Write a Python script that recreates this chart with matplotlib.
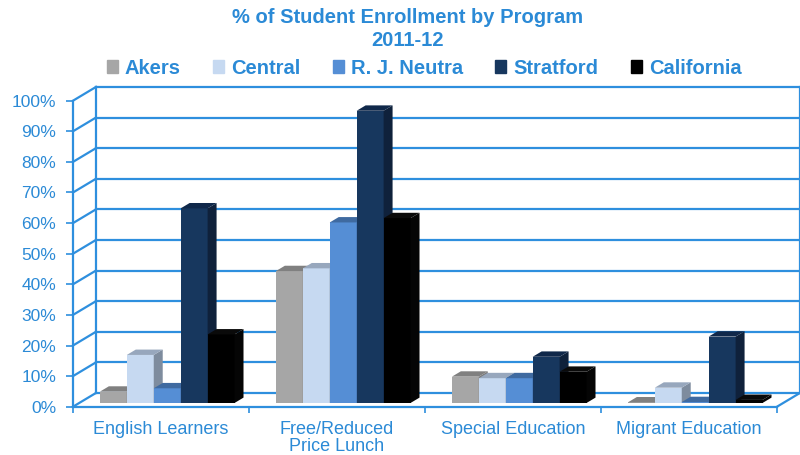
import numpy as np
import matplotlib.pyplot as plt
from matplotlib.patches import Polygon, Patch

categories = ['English Learners', 'Free/Reduced\nPrice Lunch', 'Special Education', 'Migrant Education']
schools = ['Akers', 'Central', 'R. J. Neutra', 'Stratford', 'California']
akers = [3.7, 43.1, 8.6, 0.2]
central = [15.7, 44.0, 8.1, 5.0]
neutra = [4.8, 59.0, 8.1, 0.3]
stratford = [63.6, 95.5, 15.1, 21.7]
california = [22.4, 60.4, 10.2, 1.0]
yticks = list(range(0, 101, 10))

series = [akers, central, neutra, stratford, california]
# front / top / side colours for each series
front_cols = ['#A6A6A6', '#C6D9F1', '#558ED5', '#17375E', '#000000']
top_cols = ['#808080', '#97A7BD', '#3F6AA0', '#10284A', '#0A0A0A']
side_cols = ['#7A7A7A', '#7E8C9E', '#3A6295', '#0F213B', '#050505']

blue = '#2E8FDE'
txt = '#2B8AD6'
plt.rcParams['font.family'] = ['Liberation Sans', 'DejaVu Sans']

fig = plt.figure(figsize=(8, 4.55), dpi=100)
ax = fig.add_axes([73 / 800, (455 - 406.7) / 455, 704 / 800, 306 / 455])
ax.set_xlim(-0.5, 3.5)
ax.set_ylim(0, 100)

# depth of the 3d box in data units
DX, DY = 0.1307, 4.5
f0, f1 = 0.27, 0.66
bw = 0.153

# back wall
for y in yticks:
    ax.plot([-0.5 + DX, 3.5 + DX], [y + DY, y + DY], color=blue, lw=1.6, clip_on=False, zorder=1)
    ax.plot([-0.5, -0.5 + DX], [y, y + DY], color=blue, lw=1.6, clip_on=False, zorder=1)
for x in [-0.5 + DX, 3.5 + DX]:
    ax.plot([x, x], [DY, 100 + DY], color=blue, lw=1.6, clip_on=False, zorder=1)
ax.plot([3.5, 3.5 + DX], [0, DY], color=blue, lw=1.6, clip_on=False, zorder=1)

# bars
x = np.arange(len(categories))
for g in range(len(categories)):
    for i, vals in enumerate(series):
        v = vals[g]
        x0 = g - 2.5 * bw + i * bw
        x1 = x0 + bw
        ox0, oy0 = f0 * DX, f0 * DY
        ox1, oy1 = f1 * DX, f1 * DY
        z = 3 + g * 10 + i
        ax.bar(x0 + ox0, v, width=bw, bottom=oy0, align='edge', color=front_cols[i],
               zorder=z, clip_on=False)
        side = [(x1 + ox0, oy0), (x1 + ox1, oy1), (x1 + ox1, v + oy1), (x1 + ox0, v + oy0)]
        ax.add_patch(Polygon(side, closed=True, color=side_cols[i], zorder=z, clip_on=False, lw=0))
        top = [(x0 + ox0, v + oy0), (x1 + ox0, v + oy0), (x1 + ox1, v + oy1), (x0 + ox1, v + oy1)]
        ax.add_patch(Polygon(top, closed=True, color=top_cols[i], zorder=z, clip_on=False, lw=0))

# axes styling
for s in ['top', 'right']:
    ax.spines[s].set_visible(False)
ax.spines['left'].set_color(blue)
ax.spines['bottom'].set_color(blue)
ax.spines['left'].set_linewidth(1.6)
ax.spines['bottom'].set_linewidth(1.6)
ax.spines['left'].set_zorder(2)
ax.spines['bottom'].set_zorder(60)
ax.set_yticks(yticks)
ax.set_yticklabels([f'{t}%' for t in yticks], fontsize=12.5, color=txt)
ax.tick_params(axis='y', colors=blue, labelcolor=txt, length=5, width=1.2, pad=7)
ax.set_xticks(np.arange(-0.5, 4, 1))
ax.set_xticklabels([])
ax.tick_params(axis='x', colors=blue, length=4, width=1.2)
ax.set_xticks(x, minor=True)
ax.set_xticklabels(categories, minor=True, fontsize=13, color=txt, linespacing=1.05)
ax.tick_params(axis='x', which='minor', length=0, pad=10)
ax.patch.set_alpha(0)

fig.text(0.51, 1 - 8 / 455, '% of Student Enrollment by Program\n2011-12', ha='center', va='top',
         fontsize=14.5, fontweight='bold', color=txt, linespacing=1.3)

handles = [Patch(color=c) for c in front_cols]
fig.legend(handles, schools, loc='center', bbox_to_anchor=(424 / 800, 1 - 68 / 455), ncol=5,
           frameon=False, handlelength=0.55, handleheight=0.6, handletextpad=0.35,
           columnspacing=1.6, prop={'size': 14.5, 'weight': 'bold'}, labelcolor=txt)

fig.savefig('out.png', dpi=100)
